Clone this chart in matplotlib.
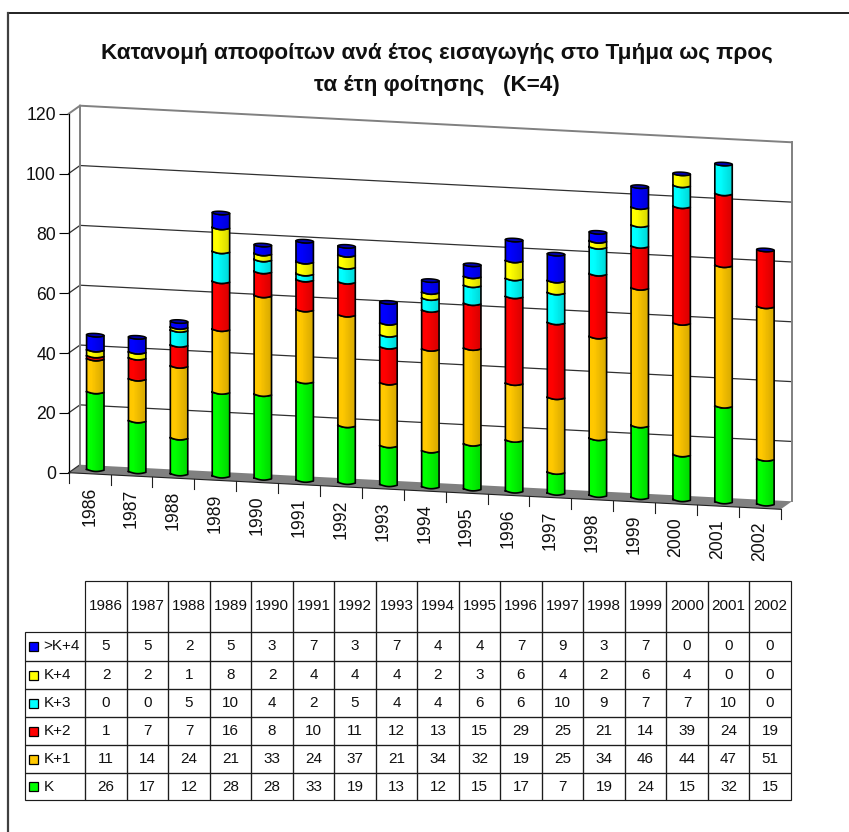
import numpy as np
import matplotlib
matplotlib.use("Agg")
import matplotlib.pyplot as plt
from matplotlib.colors import to_rgb
from matplotlib.lines import Line2D
from matplotlib.patches import Rectangle
from matplotlib.table import Table
from matplotlib.transforms import Affine2D

plt.rcParams['font.family'] = ['Liberation Sans', 'DejaVu Sans']

TITLE = "Κατανομή αποφοίτων ανά έτος εισαγωγής στο Τμήμα ως προς\nτα έτη φοίτησης   (Κ=4)"
years = ['1986', '1987', '1988', '1989', '1990', '1991', '1992', '1993', '1994',
         '1995', '1996', '1997', '1998', '1999', '2000', '2001', '2002']
k0 = [26, 17, 12, 28, 28, 33, 19, 13, 12, 15, 17, 7, 19, 24, 15, 32, 15]
k1 = [11, 14, 24, 21, 33, 24, 37, 21, 34, 32, 19, 25, 34, 46, 44, 47, 51]
k2 = [1, 7, 7, 16, 8, 10, 11, 12, 13, 15, 29, 25, 21, 14, 39, 24, 19]
k3 = [0, 0, 5, 10, 4, 2, 5, 4, 4, 6, 6, 10, 9, 7, 7, 10, 0]
k4 = [2, 2, 1, 8, 2, 4, 4, 4, 2, 3, 6, 4, 2, 6, 4, 0, 0]
k5 = [5, 5, 2, 5, 3, 7, 3, 7, 4, 4, 7, 9, 3, 7, 0, 0, 0]
series = [k0, k1, k2, k3, k4, k5]
names = ['Κ', 'Κ+1', 'Κ+2', 'Κ+3', 'Κ+4', '>Κ+4']
colors = ['#00FF00', '#FFC800', '#FF0000', '#00FFFF', '#FFFF00', '#0000FF']

W, H = 849, 832
fig = plt.figure(figsize=(W / 100, H / 100), dpi=100, facecolor='white')

# outer frame: only its top and left sides fall inside the picture
fig.add_artist(Line2D([7.5 / W, 1], [1 - 12.7 / H] * 2, transform=fig.transFigure,
                      color='#101010', lw=1.3))
fig.add_artist(Line2D([7.5 / W] * 2, [1 - 12.7 / H, 0], transform=fig.transFigure,
                      color='#404040', lw=1.6))

X0, Y0, PW, PH = 68.7, 472.7, 712.0, 359.0
ax = fig.add_axes([X0 / W, 1 - Y0 / H, PW / W, PH / H])
ax.patch.set_visible(False)
ax.set_xlim(0, 17)
ax.set_ylim(0, 120)

# shear of the oblique projection, anchored at the left axis (display px)
slope = 36.6 / 712.0
shear = Affine2D.from_values(1, -slope, 0, 1, 0, slope * X0)
front = ax.transData + shear
DX, DY = 11.3, 8.0
back = ax.transData + shear + Affine2D().translate(DX, DY)
mid = ax.transData + shear + Affine2D().translate(DX / 2, DY / 2)
unit = 120 / PH   # value units per pixel
GRAY = '#808080'

# real left axis
for s in ['top', 'right', 'bottom']:
    ax.spines[s].set_visible(False)
ax.spines['left'].set_linewidth(0.9)
ax.set_xticks([])
ax.set_yticks(range(0, 121, 20))
ax.tick_params(axis='y', length=7.2, width=0.8, labelsize=12.7, pad=2, labelcolor='#101010')

# floor
inv = ax.transData.inverted()
pts_front = front.transform(np.c_[[0, 17], [0, 0]])
pts_back = back.transform(np.c_[[17, 0], [0, 0]])
poly = inv.transform(np.r_[pts_front, pts_back])
ax.fill(poly[:, 0], poly[:, 1], color=GRAY, lw=0, zorder=1, clip_on=False)

# back wall and side connectors
for v in range(0, 121, 20):
    c = GRAY if v == 120 else '#303030'
    lw = 1.4 if v == 120 else 0.9
    if v > 0:
        ax.plot([0, 17], [v, v], color=c, lw=lw, transform=back, clip_on=False, zorder=2)
    p = inv.transform(back.transform([[0, v]]))[0]
    ax.plot([0, p[0]], [v, p[1]], color=c, lw=lw, clip_on=False, zorder=2)
for x in (0, 17):
    ax.plot([x, x], [0, 120], color=GRAY, lw=1.4, transform=back, clip_on=False, zorder=2)

# category axis: ticks and labels
ax.plot([0, 17], [0, 0], color='#202020', lw=0.8, transform=front, clip_on=False, zorder=3)
for i in range(18):
    ax.plot([i, i], [0, -10 * unit], color='#202020', lw=0.8, transform=front, clip_on=False, zorder=3)
for i, y in enumerate(years):
    ax.text(i + 0.5, -13 * unit, y, rotation=90, ha='center', va='top', fontsize=12.7,
            transform=front, clip_on=False, color='#101010')


def shade(u):
    """brightness across the cylinder, u from 0 (left) to 1 (right)"""
    return 1.0 if u < 0.3 else 1.0 - 0.16 * (u - 0.3) / 0.7


def arc(u):
    return np.sin(np.pi * u) * sag


half = 0.208
sag = 1.7 * unit
vals = np.array(series, dtype=float)
bottoms = np.r_[np.zeros((1, 17)), np.cumsum(vals, axis=0)[:-1]]
pos = np.arange(17) + 0.5
us = np.linspace(0, 1, 13)
for j in range(6):
    ax.bar(pos, vals[j], bottom=bottoms[j], width=2 * half, color=colors[j], lw=0,
           transform=mid, zorder=4 + j, clip_on=False)
    base = np.array(to_rgb(colors[j]))
    for i in range(17):
        if vals[j, i] == 0:
            continue
        lo, hi = bottoms[j, i], bottoms[j, i] + vals[j, i]
        for a, b in zip(us[:-1], us[1:]):
            xs = pos[i] - half + 2 * half * np.array([a, b, b, a])
            ys = [lo - arc(a), lo - arc(b), hi - arc(b), hi - arc(a)]
            ax.fill(xs, ys, color=tuple(base * shade((a + b) / 2)), lw=0.3,
                    transform=mid, zorder=4 + j, clip_on=False)
        xo = pos[i] - half + 2 * half * us
        ax.plot(np.r_[xo, xo[::-1], xo[0]],
                np.r_[lo - arc(us), (hi - arc(us))[::-1], lo - arc(us[0])],
                color='black', lw=1.2, transform=mid, zorder=4 + j, clip_on=False)
# top caps
t = np.linspace(0, 2 * np.pi, 41)
for i in range(17):
    top = vals[:, i].sum()
    ax.fill(pos[i] + half * np.cos(t), top + sag * np.sin(t), fc='#0000B4', ec='black',
            lw=1.1, transform=mid, zorder=11, clip_on=False)

# title
fig.text(437 / W, 1 - 69.5 / H, TITLE, ha='center', va='center', fontsize=16.2,
         fontweight='bold', linespacing=1.7, color='#101010')

# data table
TL, TR, TT, TB = 24.7, 790.7, 581.0, 800.0
tax = fig.add_axes([TL / W, 1 - TB / H, (TR - TL) / W, (TB - TT) / H])
tax.set_xlim(TL, TR)
tax.set_ylim(TB, TT)
tax.axis('off')
tbl = Table(tax, bbox=[0, 0, 1, 1])
tbl.auto_set_font_size(False)
col_w = [60.6] + [(TR - TL - 60.6) / 17] * 17
row_h = [50.7, 29.3, 28.3, 28.0, 28.0, 28.0, 26.7]
EDGE = '#1c1c1c'
for c, y in enumerate([''] + years):
    cell = tbl.add_cell(0, c, width=col_w[c], height=row_h[0], text=y, loc='center',
                        edgecolor=EDGE, facecolor='none')
    cell.set_linewidth(0.85)
tbl[0, 0].visible_edges = ''
order = list(range(5, -1, -1))
yy = TT + row_h[0]
for r, j in enumerate(order, start=1):
    cell = tbl.add_cell(r, 0, width=col_w[0], height=row_h[r], text=names[j], loc='left',
                        edgecolor=EDGE, facecolor='none')
    cell.PAD = 0.307
    cell.set_linewidth(0.85)
    for c in range(17):
        cell = tbl.add_cell(r, c + 1, width=col_w[c + 1], height=row_h[r], text=str(series[j][c]),
                            loc='center', edgecolor=EDGE, facecolor='none')
        cell.set_linewidth(0.85)
    tax.add_patch(Rectangle((28.7, yy + row_h[r] / 2 - 4.5), 9, 9, fc=colors[j], ec='black',
                            lw=0.9, zorder=5))
    yy += row_h[r]
for cell in tbl.get_celld().values():
    cell.get_text().set_fontsize(11)
    cell.get_text().set_color('#101010')
tax.add_table(tbl)

fig.savefig('out.png', dpi=100, facecolor='white')
